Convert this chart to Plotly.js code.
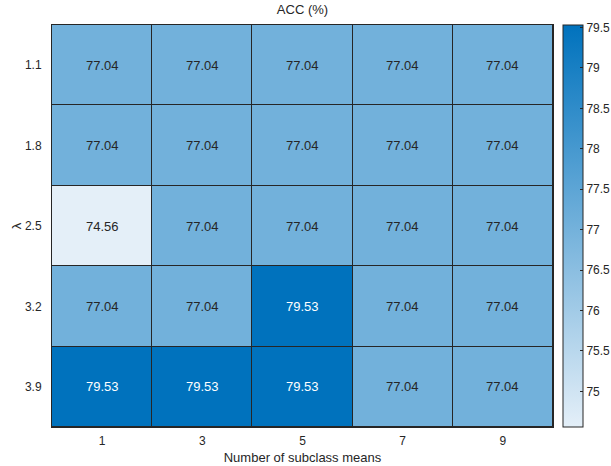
<!DOCTYPE html>
<html>
<head>
<meta charset="utf-8">
<script src="https://cdn.plot.ly/plotly-3.0.1.min.js"></script>
<style>html,body{margin:0;padding:0;background:#fff;}#chart{width:611px;height:466px;}</style>
</head>
<body>
<div id="chart"></div>
<script>
// Number of subclass means (columns) and lambda values (rows)
const subclassMeans = [1, 3, 5, 7, 9];
const lambdaValues = [1.1, 1.8, 2.5, 3.2, 3.9];

// ACC (%) per lambda row
const accLambda11 = [77.04, 77.04, 77.04, 77.04, 77.04];
const accLambda18 = [77.04, 77.04, 77.04, 77.04, 77.04];
const accLambda25 = [74.56, 77.04, 77.04, 77.04, 77.04];
const accLambda32 = [77.04, 77.04, 79.53, 77.04, 77.04];
const accLambda39 = [79.53, 79.53, 79.53, 77.04, 77.04];

const colorbarTicks = [75, 75.5, 76, 76.5, 77, 77.5, 78, 78.5, 79, 79.5];

const z = [accLambda11, accLambda18, accLambda25, accLambda32, accLambda39];
const zMin = Math.min(...z.flat());
const zMax = Math.max(...z.flat());

const fontFam = 'Liberation Sans, Arial, Helvetica, sans-serif';
const ink = '#262626';

// half-cell spacing for axis ranges
const dx = (subclassMeans[1] - subclassMeans[0]) / 2;
const dy = (lambdaValues[1] - lambdaValues[0]) / 2;

// cell value labels
const annotations = [];
z.forEach((row, i) => {
  row.forEach((v, j) => {
    const frac = (v - zMin) / (zMax - zMin);
    annotations.push({
      x: subclassMeans[j], y: lambdaValues[i], xref: 'x', yref: 'y',
      text: v.toFixed(2), showarrow: false,
      font: {family: fontFam, size: 13, color: frac > 0.75 ? '#ffffff' : ink}
    });
  });
});

const trace = {
  type: 'heatmap',
  x: subclassMeans,
  y: lambdaValues,
  z: z,
  zmin: zMin,
  zmax: zMax,
  xgap: 1,
  ygap: 1,
  colorscale: [[0, '#E4EFF8'], [1, '#0072BD']],
  hoverinfo: 'skip',
  colorbar: {
    x: 1.02, xanchor: 'left', xref: 'paper',
    y: 0, yanchor: 'bottom', len: 1, lenmode: 'fraction',
    thickness: 20, thicknessmode: 'pixels',
    outlinewidth: 1, outlinecolor: ink,
    tickmode: 'array', tickvals: colorbarTicks,
    ticktext: colorbarTicks.map(String),
    ticks: 'inside', ticklen: 3, tickcolor: ink,
    tickfont: {family: fontFam, size: 12, color: ink},
    xpad: 0, ypad: 0
  }
};

const layout = {
  width: 611, height: 466,
  margin: {l: 52, r: 58, t: 25, b: 39, autoexpand: false},
  paper_bgcolor: '#ffffff',
  plot_bgcolor: ink,
  title: {text: 'ACC (%)', x: 0.5, xref: 'paper', y: 0.99, yanchor: 'top',
          font: {family: fontFam, size: 13, color: ink}},
  xaxis: {
    range: [subclassMeans[0] - dx, subclassMeans[subclassMeans.length - 1] + dx],
    tickmode: 'array', tickvals: subclassMeans, ticktext: subclassMeans.map(String),
    showgrid: false, zeroline: false, ticks: '', ticklabelstandoff: 3,
    tickfont: {family: fontFam, size: 12, color: ink},
    title: {text: 'Number of subclass means', standoff: 5,
            font: {family: fontFam, size: 13, color: ink}},
    showline: true, linecolor: ink, linewidth: 1, mirror: true
  },
  yaxis: {
    range: [lambdaValues[lambdaValues.length - 1] + dy, lambdaValues[0] - dy],
    tickmode: 'array', tickvals: lambdaValues, ticktext: lambdaValues.map(v => v.toFixed(1)),
    showgrid: false, zeroline: false, ticks: '', ticklabelstandoff: 7,
    tickfont: {family: fontFam, size: 12, color: ink},
    title: {text: 'λ', standoff: 0, font: {family: fontFam, size: 13, color: ink}},
    showline: true, linecolor: ink, linewidth: 1, mirror: true
  },
  annotations: annotations
};

Plotly.newPlot('chart', [trace], layout, {displayModeBar: false, staticPlot: true});
</script>
</body>
</html>
